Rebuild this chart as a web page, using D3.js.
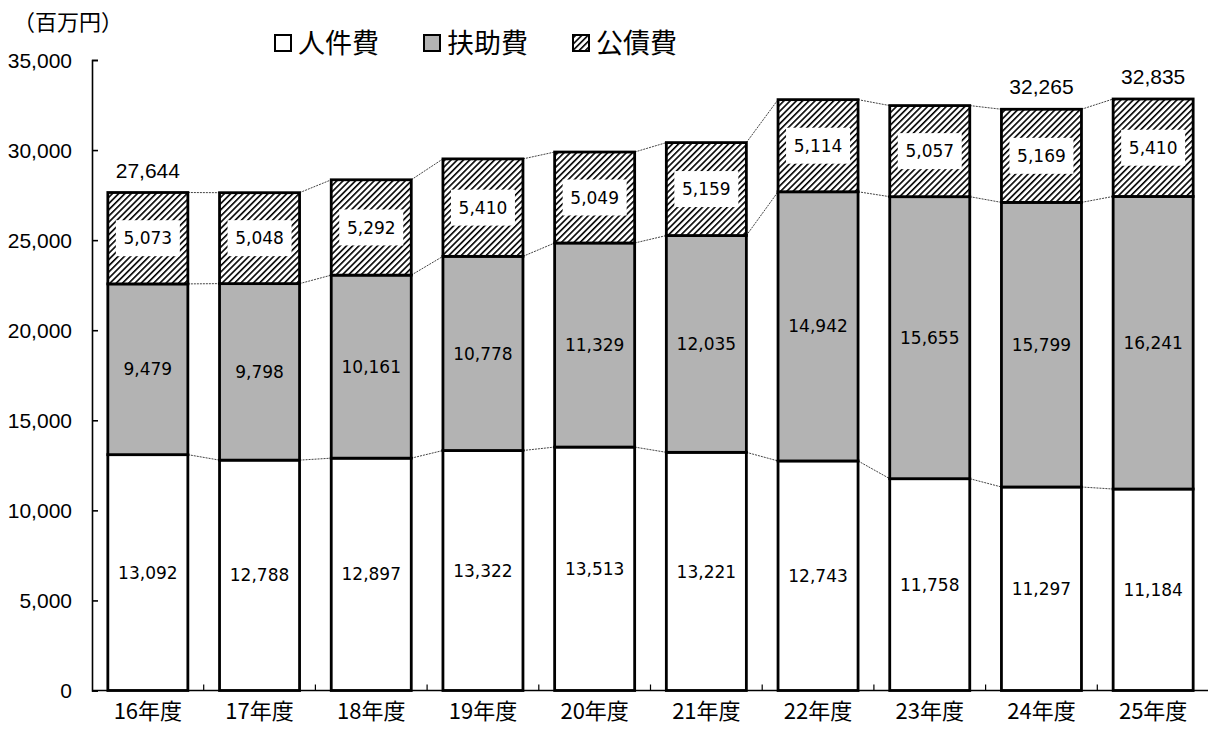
<!DOCTYPE html>
<html><head><meta charset="utf-8">
<script src="https://cdn.jsdelivr.net/npm/d3@7"></script>
<style>body{margin:0;background:#fff}</style>
</head><body>
<svg id="c" width="1208" height="733"></svg>
<script>
const categories = ["16年度","17年度","18年度","19年度","20年度","21年度","22年度","23年度","24年度","25年度"];
const seriesNames = ["人件費","扶助費","公債費"];
const personnel = [13092,12788,12897,13322,13513,13221,12743,11758,11297,11184];
const assistance = [9479,9798,10161,10778,11329,12035,14942,15655,15799,16241];
const debt = [5073,5048,5292,5410,5049,5159,5114,5057,5169,5410];
const totalsShown = [true,false,false,false,false,false,false,false,true,true];
const yTicks = [0,5000,10000,15000,20000,25000,30000,35000];

(function(){
const svg = d3.select("#c");
const font = "'Liberation Sans','Noto Sans CJK JP',sans-serif";
const lfont = "'DejaVu Sans','Noto Sans CJK JP',sans-serif";
const jfont = "'Noto Sans CJK JP',sans-serif";
const mL = 92, mR = 1209, mT = 60, mB = 690.5;

const defs = svg.append("defs");
const pat = defs.append("pattern").attr("id","hatch").attr("patternUnits","userSpaceOnUse")
  .attr("width",4.4).attr("height",4.4).attr("patternTransform","rotate(45)");
pat.append("rect").attr("width",4.4).attr("height",4.4).attr("fill","#fff");
pat.append("rect").attr("x",0).attr("y",0).attr("width",1.6).attr("height",4.4).attr("fill","#000");

const x = d3.scaleBand().domain(categories).range([mL,mR]).paddingInner(0.2836).paddingOuter(0.1418);
const y = d3.scaleLinear().domain([0,35000]).range([mB,mT]);

const data = categories.map((c,i)=>({cat:c, "人件費":personnel[i], "扶助費":assistance[i], "公債費":debt[i]}));
const stack = d3.stack().keys(seriesNames)(data);
const fills = ["#fff","#b3b3b3","url(#hatch)"];

stack.forEach(layer=>{
  for(let i=0;i<layer.length-1;i++){
    svg.append("line")
      .attr("x1",x(categories[i])+x.bandwidth()).attr("y1",y(layer[i][1]))
      .attr("x2",x(categories[i+1])).attr("y2",y(layer[i+1][1]))
      .attr("stroke","#444").attr("stroke-width",1).attr("stroke-dasharray","2,1");
  }
});

stack.forEach((layer,k)=>{
  svg.append("g").selectAll("rect").data(layer).join("rect")
    .attr("x",(d,i)=>x(categories[i]))
    .attr("y",d=>y(d[1]))
    .attr("width",x.bandwidth())
    .attr("height",d=>y(d[0])-y(d[1]))
    .attr("fill",fills[k]).attr("stroke","#000").attr("stroke-width",2.8);
});

stack.forEach((layer,k)=>{
  layer.forEach((d,i)=>{
    const cx = x(categories[i])+x.bandwidth()/2;
    const cy = (y(d[0])+y(d[1]))/2;
    if(k===2){
      svg.append("rect").attr("x",cx-32).attr("y",cy-18).attr("width",64).attr("height",36).attr("fill","#fff");
    }
    svg.append("text").attr("x",cx).attr("y",cy).attr("dy","0.36em")
      .attr("text-anchor","middle").attr("font-family",lfont).attr("font-size",17)
      .text(d3.format(",")(d[1]-d[0]));
  });
});

stack[2].forEach((d,i)=>{
  if(!totalsShown[i]) return;
  svg.append("text").attr("x",x(categories[i])+x.bandwidth()/2).attr("y",y(d[1])-15)
    .attr("text-anchor","middle").attr("font-family",font).attr("font-size",21)
    .text(d3.format(",")(d[1]));
});

const yAxis = svg.append("g").attr("transform",`translate(${mL},0)`)
  .call(d3.axisRight(y).tickValues(yTicks).tickSize(6).tickFormat(""));
yAxis.select(".domain").attr("stroke","#000").attr("stroke-width",1.6);
yAxis.selectAll(".tick line").attr("stroke","#000").attr("stroke-width",1.6);
yTicks.forEach(t=>{
  svg.append("text").attr("x",72).attr("y",y(t)).attr("dy","0.36em").attr("text-anchor","end")
    .attr("font-family",font).attr("font-size",21).text(d3.format(",")(t));
});

svg.append("line").attr("x1",mL).attr("x2",mR).attr("y1",mB).attr("y2",mB)
  .attr("stroke","#000").attr("stroke-width",1.6);
const step = x.step();
for(let i=1;i<categories.length;i++){
  const bx = mL + step*i;
  svg.append("line").attr("x1",bx).attr("x2",bx).attr("y1",mB).attr("y2",mB-6)
    .attr("stroke","#000").attr("stroke-width",1.2);
}
const xAxis = svg.append("g").attr("transform",`translate(0,${mB})`)
  .call(d3.axisBottom(x).tickSize(0).tickPadding(13));
xAxis.select(".domain").remove();
xAxis.selectAll("text").attr("font-family",jfont).attr("font-size",22).attr("fill","#000").attr("dy","0.71em");

svg.append("text").attr("x",13).attr("y",30).attr("font-family",jfont).attr("font-size",22).text("（百万円）");

const legX = [274,423,572];
const legFills = ["#fff","#b3b3b3","url(#hatch)"];
seriesNames.forEach((n,i)=>{
  svg.append("rect").attr("x",legX[i]+1).attr("y",35).attr("width",16).attr("height",16)
    .attr("fill",legFills[i]).attr("stroke","#000").attr("stroke-width",2);
  svg.append("text").attr("x",legX[i]+24).attr("y",53).attr("font-family",jfont).attr("font-size",27)
    .text(n);
});
})();
</script>
</body></html>
